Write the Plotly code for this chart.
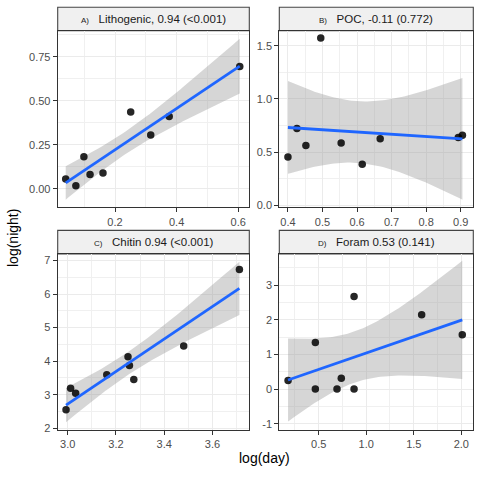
import numpy as np
import plotly.graph_objects as go

# ---- data ----
litho_day = [0.040, 0.073, 0.099, 0.119, 0.161, 0.251, 0.316, 0.376, 0.605]
litho_night = [0.056, 0.017, 0.182, 0.081, 0.090, 0.436, 0.305, 0.410, 0.695]

poc_day = [0.400, 0.426, 0.452, 0.495, 0.554, 0.615, 0.667, 0.893, 0.905]
poc_night = [0.456, 0.722, 0.564, 1.571, 0.586, 0.387, 0.626, 0.638, 0.660]

chitin_day = [2.993, 3.012, 3.033, 3.162, 3.250, 3.256, 3.274, 3.481, 3.712]
chitin_night = [2.55, 3.19, 3.04, 3.59, 4.13, 3.87, 3.45, 4.45, 6.73]

foram_day = [0.178, 0.465, 0.465, 0.693, 0.738, 0.872, 0.872, 1.583, 2.010]
foram_night = [0.250, 1.343, 0.000, 0.000, 0.314, 0.000, 2.676, 2.143, 1.571]

tags = ["A)", "B)", "C)", "D)"]
titles = ["Lithogenic, 0.94 (&lt;0.001)", "POC, -0.11 (0.772)",
          "Chitin 0.94 (&lt;0.001)", "Foram 0.53 (0.141)"]

x_ticks = [[0.2, 0.4, 0.6], [0.4, 0.5, 0.6, 0.7, 0.8, 0.9],
           [3.0, 3.2, 3.4, 3.6], [0.5, 1.0, 1.5, 2.0]]
x_ticklabels = [["0.2", "0.4", "0.6"], ["0.4", "0.5", "0.6", "0.7", "0.8", "0.9"],
                ["3.0", "3.2", "3.4", "3.6"], ["0.5", "1.0", "1.5", "2.0"]]
y_ticks = [[0.0, 0.25, 0.5, 0.75], [0.0, 0.5, 1.0, 1.5],
           [2, 3, 4, 5, 6, 7], [-1, 0, 1, 2, 3]]
y_ticklabels = [["0.00", "0.25", "0.50", "0.75"], ["0.0", "0.5", "1.0", "1.5"],
                ["2", "3", "4", "5", "6", "7"], ["-1", "0", "1", "2", "3"]]

x_ranges = [[0.014, 0.636], [0.375, 0.9365], [2.9585, 3.753], [0.086, 2.126]]
y_ranges = [[-0.105, 0.898], [-0.016, 1.64], [1.95, 7.197], [-1.18, 3.905]]

T_DF = {5: 2.570582, 6: 2.446912, 7: 2.364624, 8: 2.306004, 9: 2.262157, 10: 2.228139}

W, H = 478, 479
panels_px = [  # x0, x1, y0(top), y1(bottom) of plot area
    (57.7, 249.3, 31, 209), (279.3, 473.3, 31, 209),
    (57.7, 249.3, 256, 433.5), (279.3, 473.3, 256, 433.5)]
strip_h = 23.7

FONT = "Liberation Sans, Arial, sans-serif"
fig = go.Figure()
series = [(litho_day, litho_night), (poc_day, poc_night),
          (chitin_day, chitin_night), (foram_day, foram_night)]

shapes = []
annotations = []
for i, (xd, yd) in enumerate(series):
    xa = "x" if i == 0 else f"x{i+1}"
    ya = "y" if i == 0 else f"y{i+1}"
    x = np.array(xd)
    y = np.array(yd)
    n = len(x)
    b1, b0 = np.polyfit(x, y, 1)
    xs = np.linspace(x.min(), x.max(), 80)
    yhat = b0 + b1 * xs
    resid = y - (b0 + b1 * x)
    s = np.sqrt(np.sum(resid ** 2) / (n - 2))
    se = s * np.sqrt(1 / n + (xs - x.mean()) ** 2 / np.sum((x - x.mean()) ** 2))
    t = T_DF[n - 2]
    lo, hi = yhat - t * se, yhat + t * se
    fig.add_trace(go.Scatter(x=np.concatenate([xs, xs[::-1]]),
                             y=np.concatenate([hi, lo[::-1]]),
                             fill="toself", fillcolor="rgba(153,153,153,0.4)",
                             line=dict(width=0), mode="lines", hoverinfo="skip",
                             showlegend=False, xaxis=xa, yaxis=ya))
    fig.add_trace(go.Scatter(x=x, y=y, mode="markers",
                             marker=dict(color="black", size=7.5, opacity=0.85),
                             showlegend=False, xaxis=xa, yaxis=ya))
    fig.add_trace(go.Scatter(x=xs, y=yhat, mode="lines",
                             line=dict(color="#1F66FF", width=2.8),
                             showlegend=False, xaxis=xa, yaxis=ya))

    x0, x1, ytop, ybot = panels_px[i]
    dom_x = [x0 / W, x1 / W]
    dom_y = [1 - ybot / H, 1 - ytop / H]
    xt = x_ticks[i]
    yt = y_ticks[i]
    xminor = [xt[0] - (xt[1] - xt[0]) / 2] + [(a + b) / 2 for a, b in zip(xt[:-1], xt[1:])] + [xt[-1] + (xt[1] - xt[0]) / 2]
    yminor = [yt[0] - (yt[1] - yt[0]) / 2] + [(a + b) / 2 for a, b in zip(yt[:-1], yt[1:])] + [yt[-1] + (yt[1] - yt[0]) / 2]
    axis_common = dict(showline=True, linecolor="#333333", linewidth=1.1, mirror=True,
                       ticks="outside", ticklen=4, tickcolor="#333333", tickwidth=1,
                       showgrid=True, gridcolor="#EBEBEB", gridwidth=1.1, zeroline=False,
                       tickfont=dict(family=FONT, size=11, color="#4D4D4D"))
    fig.update_layout(**{
        ("xaxis" if i == 0 else f"xaxis{i+1}"): dict(
            domain=dom_x, range=x_ranges[i], anchor=ya, tickmode="array",
            tickvals=xt, ticktext=x_ticklabels[i],
            minor=dict(tickmode="array", tickvals=xminor, showgrid=True,
                       gridcolor="#F0F0F0", gridwidth=0.8, ticks=""),
            **axis_common),
        ("yaxis" if i == 0 else f"yaxis{i+1}"): dict(
            domain=dom_y, range=y_ranges[i], anchor=xa, tickmode="array",
            tickvals=yt, ticktext=y_ticklabels[i],
            minor=dict(tickmode="array", tickvals=yminor, showgrid=True,
                       gridcolor="#F0F0F0", gridwidth=0.8, ticks=""),
            **axis_common),
    })
    # strip
    shapes.append(dict(type="rect", xref="paper", yref="paper",
                       x0=x0 / W, x1=x1 / W, y0=1 - ytop / H, y1=1 - (ytop - strip_h) / H,
                       fillcolor="#F0F0F0", line=dict(color="#444444", width=1.1), layer="below"))
    annotations.append(dict(
        xref="paper", yref="paper", x=(x0 + x1) / 2 / W, y=1 - (ytop - strip_h / 2) / H,
        text=f"<span style='font-size:8px'>{tags[i]}</span>&nbsp;&nbsp;&nbsp;{titles[i]}",
        showarrow=False, xanchor="center", yanchor="middle",
        font=dict(family=FONT, size=11.5, color="#1A1A1A")))

annotations.append(dict(xref="paper", yref="paper", x=264.5 / W, y=1 - 462 / H,
                        text="log(day)", showarrow=False, xanchor="center", yanchor="middle",
                        font=dict(family=FONT, size=14, color="black")))
annotations.append(dict(xref="paper", yref="paper", x=13 / W, y=1 - 240 / H,
                        text="log(night)", showarrow=False, xanchor="center", yanchor="middle",
                        textangle=-90, font=dict(family=FONT, size=14, color="black")))

fig.update_layout(width=W, height=H, margin=dict(l=0, r=0, t=0, b=0),
                  paper_bgcolor="white", plot_bgcolor="white",
                  shapes=shapes, annotations=annotations, showlegend=False,
                  font=dict(family=FONT))
fig.write_html("out.html")
